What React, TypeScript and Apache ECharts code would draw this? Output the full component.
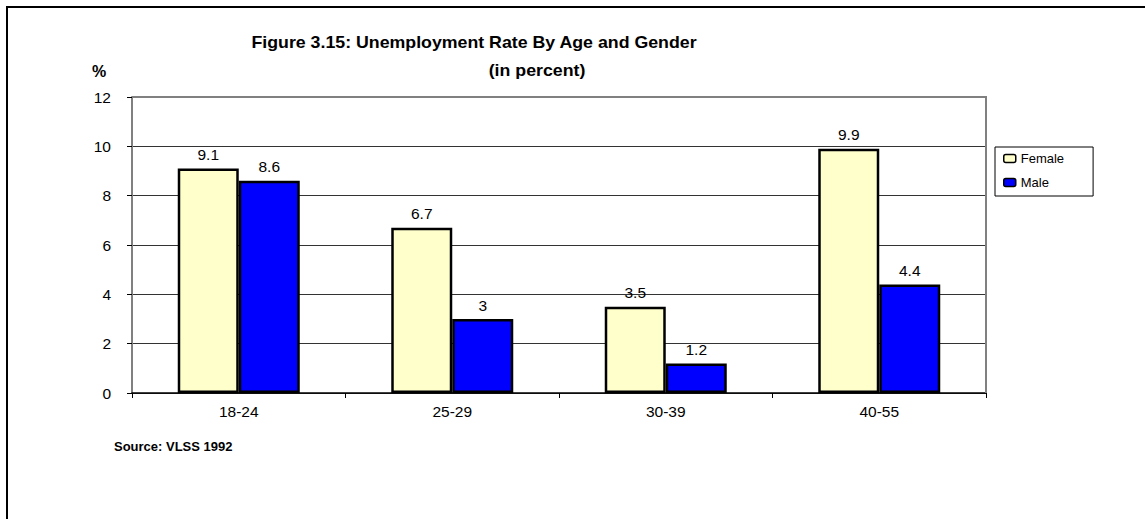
import React, { useEffect, useRef } from "react";
import * as echarts from "echarts";

const categories = ["18-24", "25-29", "30-39", "40-55"];
const femaleValues = [9.1, 6.7, 3.5, 9.9];
const maleValues = [8.6, 3, 1.2, 4.4];
const yTicks = [0, 2, 4, 6, 8, 10, 12];

const FONT = "'Liberation Sans', Arial, sans-serif";

export default function App() {
  const ref = useRef<HTMLDivElement>(null);
  useEffect(() => {
    document.body.style.margin = "0";
    const chart = echarts.init(ref.current!, null, { renderer: "svg" });
    const labelCfg = {
      show: true,
      position: "top",
      distance: 6,
      color: "#000",
      fontSize: 15.5,
      fontFamily: FONT,
    };
    chart.setOption({
      animation: false,
      backgroundColor: "#fff",
      textStyle: { fontFamily: FONT },
      grid: {
        left: 132,
        right: 159,
        top: 97,
        bottom: 126,
        show: false,
      },
      legend: {
        orient: "vertical",
        left: 995,
        top: 147,
        itemWidth: 12,
        itemHeight: 8,
        itemGap: 11,
        padding: [5, 29, 7, 8],
        borderColor: "#000",
        borderWidth: 1,
        textStyle: { fontSize: 13, color: "#000", fontFamily: FONT },
        itemStyle: { borderWidth: 1.5, borderColor: "#000" },
        data: ["Female", "Male"],
      },
      xAxis: {
        type: "category",
        data: categories,
        axisLine: { show: true, lineStyle: { color: "#000", width: 1.5 } },
        axisTick: { show: true, length: 5, lineStyle: { color: "#000" } },
        axisLabel: { color: "#000", fontSize: 15.5, margin: 10, fontFamily: FONT },
        splitLine: { show: false },
      },
      yAxis: {
        type: "value",
        min: yTicks[0],
        max: yTicks[yTicks.length - 1],
        interval: 2,
        axisLine: { show: true, lineStyle: { color: "#808080", width: 2 } },
        axisTick: { show: true, length: 5, lineStyle: { color: "#000" } },
        axisLabel: { color: "#000", fontSize: 15.5, margin: 21, fontFamily: FONT },
        splitLine: { show: true, lineStyle: { color: "#333", width: 1 } },
      },
      series: [
        {
          name: "Female",
          type: "bar",
          data: femaleValues,
          barWidth: 61,
          barGap: "0%",
          itemStyle: { color: "#FFFFCC", borderColor: "#000", borderWidth: 2.5 },
          label: labelCfg,
        },
        {
          name: "Male",
          type: "bar",
          data: maleValues,
          barWidth: 61,
          barGap: "0%",
          itemStyle: { color: "#0000FF", borderColor: "#000", borderWidth: 2.5 },
          label: labelCfg,
        },
      ],
      graphic: [
        {
          type: "polyline",
          z: 1,
          shape: { points: [[132, 97], [986, 97], [986, 393]] },
          style: { stroke: "#808080", lineWidth: 2, fill: null },
        },
        {
          type: "line",
          shape: { x1: 6, y1: 7, x2: 1145, y2: 7 },
          style: { stroke: "#000", lineWidth: 2 },
        },
        {
          type: "line",
          shape: { x1: 7, y1: 6, x2: 7, y2: 519 },
          style: { stroke: "#000", lineWidth: 2 },
        },
        {
          type: "text",
          x: 474,
          y: 43,
          scaleX: 1.11,
          style: {
            text: "Figure 3.15: Unemployment Rate By Age and Gender",
            fontSize: 16,
            fontWeight: "bold",
            fill: "#000",
            fontFamily: FONT,
            align: "center",
            verticalAlign: "middle",
          },
        },
        {
          type: "text",
          x: 537,
          y: 71,
          scaleX: 1.11,
          style: {
            text: "(in percent)",
            fontSize: 16,
            fontWeight: "bold",
            fill: "#000",
            fontFamily: FONT,
            align: "center",
            verticalAlign: "middle",
          },
        },
        {
          type: "text",
          x: 92,
          y: 71,
          style: {
            text: "%",
            fontSize: 16,
            fontWeight: "bold",
            fill: "#000",
            fontFamily: FONT,
            align: "left",
            verticalAlign: "middle",
          },
        },
        {
          type: "text",
          x: 114,
          y: 446,
          style: {
            text: "Source: VLSS 1992",
            fontSize: 13,
            fontWeight: "bold",
            fill: "#000",
            fontFamily: FONT,
            align: "left",
            verticalAlign: "middle",
          },
        },
      ],
    });
    return () => chart.dispose();
  }, []);
  return <div ref={ref} style={{ width: 1145, height: 519 }} />;
}
